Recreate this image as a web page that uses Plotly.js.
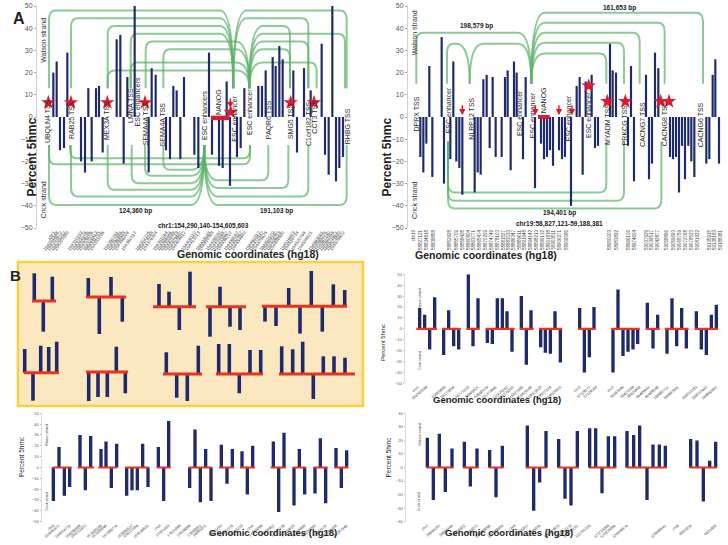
<!DOCTYPE html>
<html><head><meta charset="utf-8">
<script src="https://cdn.plot.ly/plotly-3.0.1.min.js"></script>
<style>html,body{margin:0;padding:0;background:#fff}#chart{width:728px;height:545px}</style>
</head><body><div id="chart"></div><script>
// ================= DATA =================
// Panel A (left) : chr1 region, track positions and percent 5hmc
const aL_pos = [160,170,180,192,202,243,255,265,275,288,297,308,350,361,371,382,404,446,455,467,498,510,520,530,541,552,583,595,627,636,657,668,680,690,711,722,733,775,786,797,818,827,838,848,880,891,912,932,965,975,986,997,1008,1018,1029];
const aL_val = [20,25,-15,-14,29,-20,-25,13,-20,13,14,-16,35,37,-21,18,50,-25,22,19,-15,-19,14,12,-19,18,-17,-23,29,-17,-22,-23,16,-31,-18,-14,13,14,14,21,27,23,32,26,21,-16,22,12,33,-17,-26,50,-29,-23,-18];
const aL_tickText = ["chr1","154291548","154293672","154295292","154297989","154319153","154321076","154324036","154326096","154328413","154331791","154333286","154350751","154352886","154354583","154356208","154360312","154372725","154374044","154376384","154381064","154384946","154399848","154401213","154403680","154404612","154406110","154413213","154415088","154419363","154428930","154430868","154433867","154436212","154448067","154452467","154454680","154469312","154472547","154475625","154492070","154494160","154496213","154498580","154516893","154518734","154520766","154534821","154563081","154565226","154567140","154569355","154571601","154573489","154575602"];
const aL_genes = ["UBQLN4 TSS","RAB25 TSS","MEX3A TSS","LMNA TSS","ESC enhancers","SEMA4A TSS","SEMA4A TSS","ESC enhancers","NANOG","ESC enhancer","ESC enhancer","PAQR6 TSS","SMG5 TSS","C1orf182 TSS","CCT3 TSS","RHBG TSS"];
const aL_genePos = [146,215,320,393,411,435,488,612,655,703,748,808,872,925,941,1045];
const aL_geneY = [-2,-1.5,-1.5,5,7,-2.8,-3.5,0.9,6.9,-0.6,2.4,-1.3,-2,-3,0,-4];
const aL_starPos = [145,213,322,435,872,942,692];
const aL_starY = [6.5,6.5,6.5,6.5,6.5,6.5,2.2];
const aL_arrowPos = [691];
const aL_nanog = [633,688];
const aL_arcA = [147,213,323,392,437,490,392,323, 700,700,748,748,748,748,748, 147,213,323,395,435,490,147,210, 613,613,613,613];
const aL_arcB = [700,700,700,700,748,748,748,748, 1040,925,870,1035,925,870,950, 613,613,613,613,613,613,750,750, 1040,925,865,805];
const aL_arcLevel = [48,44.5,41,37.5,34,30.5,24.5,21, 48,44.5,41,37.5,34,30.5,24.5, -39.6,-35.8,-32.8,-29.8,-26.5,-23.8,-21.3,-18.6, -39.6,-35.8,-32,-28.5];
const aL_arcHub = ['to','to','to','to','to','to','to','to','from','from','from','from','from','from','from','to','to','to','to','to','to','','','from','from','from','from'];

// Panel A (right) : chr19 region
const aR_pos = [172,181,190,199,208,236,243,262,271,280,289,298,335,344,353,361,371,380,389,398,416,426,434,443,453,461,480,488,516,534,543,552,561,570,588,597,606,624,641,650,659,668,686,696,705,741,749,759,795,804,813,849,858,867,876,886,921,930,939,948,957,966,976,985,994,1030,1039,1049,1057,1068];
const aR_val = [-18,-25,-12,23,-27,36,-30,-19,25,-20,-23,-35,-34,-25,-26,17,19,-14,18,-18,-18,18,21,-24,25,20,-19,18,-32,-12,-19,-18,-15,-22,-15,-19,-18,-40,14,18,-26,16,19,-14,-13,33,21,20,-13,23,-29,19,-28,-21,29,22,-18,-19,-18,-34,-13,-28,-13,-20,-27,-21,-19,19,26,-21];
const aR_tickPos = [151,173,191,211,261,281,299,316,333,351,369,386,403,421,436,453,469,486,503,521,538,556,573,591,611,741,761,796,816,851,866,884,911,931,951,969,986,1004,1041,1056,1074];
const aR_tickText = ["chr19","58827121","58834818","58838858","58852928","58855709","58858428","58860804","58863771","58865474","58870209","58874749","58878103","58881527","58883033","58886347","58889611","58891948","58894142","58898213","58899132","58901838","58903511","58906271","58909086","58950003","58953892","58966106","58974604","59037929","59039517","59042877","59058896","59059693","59068759","59072768","59078523","59081922","59135915","59138183","59188381"];
const aR_genes = ["DPRX TSS","ESC enhancer","NLRP12 TSS","ESC enhancer","ESC enhancer","NANOG","ESC enhancer","ESC enhancer","MYADM TSS","PRKCG TSS","CACNG7 TSS","CACNG8 TSS","CACNG6 TSS"];
const aR_genePos = [160,255,325,470,508,540,615,675,735,787,840,905,1015];
const aR_geneY = [1.3,3,-0.6,1.6,0.9,7.6,-0.6,0.9,-3.6,-3.6,-3.6,-3,-3.6];
const aR_starPos = [677,733,787,893,918];
const aR_starY = [14,7,7,7,7];
const aR_arrowPos = [298,517,588,627];
const aR_nanog = [525,560];
const aR_arcA = [160,252,320,505,505,505,505,505,255,255,255];
const aR_arcB = [505,320,505,1020,905,830,783,730,730,783,895];
const aR_arcLevel = [38,33,33,47,42.4,37.9,33.4,28.6,-34,-37.7,-41.2];
const aR_arcHub = ['to','to','both','from','from','from','from','from','','',''];

// Panel B (highlighted box) : two rows of mini bar groups
const bx1_pos = [34.3,43.3,52.3,88.3,99.3,111,122.3,159,169,179.3,190,210,220,230,240,265,276,288.7,300,311.3,322.3,333.3,344.7];
const bx1_val = [27.7,-30.7,24.3,19,-37,20,-24.7,22.7,15,-23.3,35,-30,20,-20,-23.3,-15.3,-19.7,18.3,-27.3,35.3,-25.3,22,16.3];
const bx1_grp = [0,0,0,1,1,1,1,2,2,2,2,3,3,3,3,4,4,4,4,4,4,4,4];
const bx1_base = [39,43,33.3,33.3,33.7];
const bx1_start = [32,86,153,206,262];
const bx1_end = [56,126,196,246,347];
const bx2_pos = [24.7,33,40.7,48.7,56.7,88.7,98,107.3,116.3,125.3,166.3,176.7,187.3,198.3,218.7,229.3,239.3,250,260.7,281.7,292.7,302.7,313.3,323.3,334,345];
const bx2_val = [23.7,-28,27,25.7,31,-29,-25,-25,25.3,-21.3,21.7,-23.7,-27,28.3,30,30,-19.3,24,24,27.7,24.7,32.3,-25,17.7,17.7,16.3];
const bx2_grp = [0,0,0,0,0,1,1,1,1,1,2,2,2,2,3,3,3,3,3,4,4,4,4,4,4,4];
const bx2_base = [30.3,31,29,29,29];
const bx2_start = [24,86,163,216,279];
const bx2_end = [59,128,202,263,355];

// Panel B top-right
const bTR_pos = [170,185,200,215,242,257,272,287,316,330,345,373,388,403,418,432,447,475,490,504,533,547,562,576,592,650,664,679,693,750,765,780,795,810,824,853,870,884,912,927,941,956,970,1000,1015,1030,1045,1060];
const bTR_val = [19,13,-19,29,-24,17,-16,-19,50,-16,28,-13,-14,28,28,16,-21,30,-33,17,-17,-22,-23,16,-31,19,-40,-26,20,-40,36,-25,-21,-19,-14,24,-18,13,-23,28,-16,19,-18,16,-19,-24,13,22];
const bTR_start = [160,237,310,368,470,528,645,745,848,905,995];
const bTR_end = [222,293,350,455,512,598,698,830,890,977,1065];
const bTR_tickPos = [165,190,245,272,316,345,373,398,432,450,478,504,533,562,592,650,680,700,750,780,810,830,858,884,915,945,1000,1030,1060];
const bTR_tickText = ["chr1","154393549","53955958","55173054","56773218","58665021","58690334","111273966","111275262","111276203","115027895","115028140","119623820","119627219","119828918","chr3","37129277","37129350","chr3","38397694","38421559","39425950","46499453","46499540","160997711","160997981","168533393","168533443","169092861"];

// Panel B bottom-left
const bBL_pos = [160,177,193,209,240,256,272,303,318,334,350,380,396,412,428,444,475,491,506,569,585,601,617,633,664,681,697,726,742,758,820,836,852,882,898,914,945,961,977,1008,1024,1040];
const bBL_val = [-31,19,-26,-18,30,-21,29,17,24,-19,22,-26,-21,-21,22,-18,19,-31,43,-19,35,-32,17,-31,21,-15,17,15,-25,20,24,-41,32,-35,17,-25,-24,27,-33,18,-19,16];
const bBL_start = [157,233,295,375,470,565,657,720,812,878,940,1003];
const bBL_end = [215,282,352,447,512,637,703,765,857,918,983,1045];
const bBL_tickPos = [160,177,209,240,256,303,318,350,396,412,444,480,506,540,569,601,617,664,697,726,758,785,820,852,882,914,945,977,1008,1040];
const bBL_tickText = ["chr4","155892471","156014732","156294898","156312457","157485104","157485946","157496774","158092627","158113304","158148581","chr5","13361463","13521898","13529009","13589052","14001071","14031103","14052376","14105118","chr6","17226009","17238962","17715720","17720653","17725900","87256093","87261124","87263450","87267846"];

// Panel B bottom-right
const bBR_pos = [193,211,229,247,267,304,322,342,380,399,418,493,512,530,549,587,606,624,643,680,698,717,736,755,792,812,830,852,870,889,907,983,1002,1021,1040,1058];
const bBR_val = [22,-24,25,-18,14,19,-14,14,13,-22,16,31,-32,-11,27,21,-23,-28,27,29,29,-19,23,23,27,24,31,-24,17,17,16,21,20,-25,5,19];
const bBR_start = [190,300,377,488,585,677,790,980];
const bBR_end = [272,347,422,553,648,760,912,1062];
const bBR_tickPos = [193,229,267,304,342,380,418,455,493,530,587,624,643,680,736,755,792,907,945,983,1058];
const bBR_tickText = ["chr7","30666107","30666444","77318452","77326071","121098046","121099604","chr8","73123017","73145036","109583933","109592375","112270181","112701326","123733000","123835094","128886574","128890541","chr9","6587034","6651903"];

// ================= STYLE / HELPERS =================
const FONT = 'Liberation Sans, Arial, sans-serif';
const NAVY = '#1e2a6b';
const GREEN = 'rgba(92,180,104,0.7)';
const RED = '#e0182e';
const BASERED = '#e8341f';
const W = 728, H = 545;
const px = v => v / W, py = v => 1 - v / H;

function arcPath(a, b, L, base, hub, rx, ry, hx) {
  const d = L > base ? 1 : -1;
  let p;
  if (hub === 'from' || hub === 'both') p = `M${a},${base} Q${a},${L} ${a + hx},${L}`;
  else p = `M${a},${base} L${a},${L - d * ry} Q${a},${L} ${a + rx},${L}`;
  if (hub === 'to' || hub === 'both') p += ` L${b - hx},${L} Q${b},${L} ${b},${base}`;
  else p += ` L${b - rx},${L} Q${b},${L} ${b},${L - d * ry} L${b},${base}`;
  return p;
}
function arcs(A, B, Lv, Hb, upBase, loBase, xr, yr) {
  return A.map((a, i) => ({
    type: 'path', xref: xr, yref: yr, layer: 'below',
    path: arcPath(a, B[i], Lv[i], Lv[i] > 0 ? upBase : loBase, Hb[i], 20, 4, 40),
    line: { color: GREEN, width: 2 }
  }));
}
function segs(starts, ends, bases) {
  const x = [], y = [];
  starts.forEach((s, i) => { x.push(s, ends[i], null); const b = bases ? bases[i] : 0; y.push(b, b, null); });
  return { x, y };
}
function geneAnn(pos, ys, texts, xr, yr) {
  return texts.map((t, i) => ({ x: pos[i], y: ys[i], xref: xr, yref: yr, text: t, textangle: -90,
    showarrow: false, font: { size: 7, color: '#2a2a2a', family: FONT } }));
}
function arrowAnn(pos, xr, yr, top, tip) {
  return pos.map(p => ({ x: p, y: tip, ax: p, ay: top, xref: xr, yref: yr, axref: xr, ayref: yr,
    showarrow: true, arrowhead: 2, arrowsize: 0.9, arrowwidth: 1.4, arrowcolor: RED, text: '' }));
}
function txt(x, y, t, size, opts) {
  return Object.assign({ x: x, y: y, xref: 'paper', yref: 'paper', text: t, showarrow: false,
    font: { size: size, color: '#222', family: FONT } }, opts || {});
}

// ================= TRACES =================
const traces = [];
const barA = (x, y, xa, ya) => ({ type: 'bar', x: x, y: y, width: 6.5, marker: { color: NAVY, line: { width: 0 } }, xaxis: xa, yaxis: ya, hoverinfo: 'skip' });
const barB = (x, y, xa, ya, w) => ({ type: 'bar', x: x, y: y, width: w, marker: { color: NAVY, line: { width: 0 } }, xaxis: xa, yaxis: ya, hoverinfo: 'skip' });
const stars = (x, y, xa, ya) => ({ type: 'scatter', mode: 'markers', x: x, y: y, xaxis: xa, yaxis: ya,
  marker: { symbol: 'star', size: 11, color: RED, line: { width: 0 } }, hoverinfo: 'skip' });
const redLine = (s, xa, ya, w) => ({ type: 'scatter', mode: 'lines', x: s.x, y: s.y, xaxis: xa, yaxis: ya,
  line: { color: BASERED, width: w }, hoverinfo: 'skip', connectgaps: false });

traces.push(barA(aL_pos, aL_val, 'x', 'y'));
traces.push(stars(aL_starPos, aL_starY, 'x', 'y'));
traces.push(barA(aR_pos, aR_val, 'x2', 'y2'));
traces.push(stars(aR_starPos, aR_starY, 'x2', 'y2'));

traces.push(Object.assign(barB(bx1_pos, bx1_val, 'x3', 'y3', 3.6), { base: bx1_grp.map(g => bx1_base[g]) }));
traces.push(redLine(segs(bx1_start, bx1_end, bx1_base), 'x3', 'y3', 3));
traces.push(Object.assign(barB(bx2_pos, bx2_val, 'x4', 'y4', 3.6), { base: bx2_grp.map(g => bx2_base[g]) }));
traces.push(redLine(segs(bx2_start, bx2_end, bx2_base), 'x4', 'y4', 3));

traces.push(barB(bTR_pos, bTR_val, 'x5', 'y5', 10));
traces.push(redLine(segs(bTR_start, bTR_end), 'x5', 'y5', 2.2));
traces.push(barB(bBL_pos, bBL_val, 'x6', 'y6', 10));
traces.push(redLine(segs(bBL_start, bBL_end), 'x6', 'y6', 2.2));
traces.push(barB(bBR_pos, bBR_val, 'x7', 'y7', 10));
traces.push(redLine(segs(bBR_start, bBR_end), 'x7', 'y7', 2.2));

// ================= LAYOUT =================
const hidden = { visible: false, showgrid: false, zeroline: false };
const yA = { range: [-50, 50], dtick: 10, tickfont: { size: 7, color: '#555' }, ticks: 'outside', ticklen: 2,
  tickcolor: '#aaa', showline: true, linecolor: '#d0d0d0', showgrid: false, zeroline: false };
const yB = (r, dom, anchor) => ({ domain: dom, range: r, anchor: anchor, dtick: 10, tickfont: { size: 4, color: '#555' },
  ticks: 'outside', ticklen: 1.5, tickcolor: '#bbb', showline: true, linecolor: '#ddd', showgrid: false, zeroline: false });
const xB = (dom, r, anchor, tv, tt) => ({ domain: dom, range: r, anchor: anchor, tickvals: tv, ticktext: tt, tickangle: -40,
  tickfont: { size: 3.8, color: '#444' }, ticks: '', showline: false, showgrid: false, zeroline: false });

const shapes = []
  .concat([{ type: 'rect', xref: 'paper', yref: 'paper', x0: px(18), x1: px(363), y0: py(406), y1: py(262),
    fillcolor: 'rgb(251,231,192)', line: { color: 'rgb(246,212,58)', width: 2.5 }, layer: 'below' }])
  .concat(arcs(aL_arcA, aL_arcB, aL_arcLevel, aL_arcHub, 13, -12.6, 'x', 'y'))
  .concat(arcs(aR_arcA, aR_arcB, aR_arcLevel, aR_arcHub, 15, -11, 'x2', 'y2'))
  .concat([
    { type: 'rect', xref: 'x', yref: 'y', x0: aL_nanog[0], x1: aL_nanog[1], y0: -1.4, y1: 0.6, fillcolor: RED, line: { width: 0 } },
    { type: 'rect', xref: 'x2', yref: 'y2', x0: aR_nanog[0], x1: aR_nanog[1], y0: -0.9, y1: 0.9, fillcolor: RED, line: { width: 0 } }
  ]);

const smallBold = (x, y, t, xr, yr, size) => ({ x: x, y: y, xref: xr, yref: yr, text: '<b>' + t + '</b>', showarrow: false,
  font: { size: size || 6.5, color: '#222', family: FONT } });
const strand = (x, y, t, xr, yr, size) => ({ x: x, y: y, xref: xr, yref: yr, text: t, textangle: -90, showarrow: false,
  font: { size: size, color: '#333', family: FONT } });

const annotations = []
  .concat(geneAnn(aL_genePos, aL_geneY, aL_genes, 'x', 'y'))
  .concat(geneAnn(aR_genePos, aR_geneY, aR_genes, 'x2', 'y2'))
  .concat(arrowAnn(aL_arrowPos, 'x', 'y', 9, 4))
  .concat(arrowAnn(aR_arrowPos, 'x2', 'y2', 6, 0.8))
  .concat([
    smallBold(405, -42.2, '124,360 bp', 'x', 'y'), smallBold(830, -42.2, '191,103 bp', 'x', 'y'),
    smallBold(610, -49.2, 'chr1:154,290,140-154,605,603', 'x', 'y'),
    smallBold(340, 40.8, '198,579 bp', 'x2', 'y2'), smallBold(770, 49.3, '161,653 bp', 'x2', 'y2'),
    smallBold(590, -43.3, '194,401 bp', 'x2', 'y2'), smallBold(590, -48.1, 'chr19:58,827,121-59,188,381', 'x2', 'y2'),
    strand(130, 34.5, 'Watson strand', 'x', 'y', 7), strand(130, -37.5, 'Crick strand', 'x', 'y', 7),
    strand(155, 38, 'Watson strand', 'x2', 'y2', 7), strand(155, -37.5, 'Crick strand', 'x2', 'y2', 7),
    strand(172, 27, 'Watson strand', 'x5', 'y5', 3.5), strand(172, -29, 'Crick strand', 'x5', 'y5', 3.5),
    strand(142, 30, 'Watson strand', 'x6', 'y6', 3.5), strand(142, -31, 'Crick strand', 'x6', 'y6', 3.5),
    strand(170, 24, 'Watson strand', 'x7', 'y7', 3.5), strand(170, -25, 'Crick strand', 'x7', 'y7', 3.5),
    txt(px(11), py(8), '<b>A</b>', 16),
    txt(px(8), py(275), '<b>B</b>', 15),
    txt(px(22), py(116), '<b>Percent 5hmc</b>', 12, { textangle: -90 }),
    txt(px(386), py(116), '<b>Percent 5hmc</b>', 12, { textangle: -90 }),
    txt(px(175), py(254), '<b>Genomic coordinates (hg18)</b>', 10.5),
    txt(px(559), py(255), '<b>Genomic coordinates (hg18)</b>', 10.5),
    txt(px(383), py(343), 'Percent 5hmc', 6, { textangle: -90 }),
    txt(px(16), py(479), 'Percent 5hmc', 6.5, { textangle: -90 }),
    txt(px(388), py(480), 'Percent 5hmc', 6.5, { textangle: -90 }),
    txt(px(563), py(407), '<b>Genomic coordinates (hg18)</b>', 9.5),
    txt(px(207), py(540), '<b>Genomic coordinates (hg18)</b>', 9.5),
    txt(px(575), py(540), '<b>Genomic coordinates (hg18)</b>', 9.5)
  ]);

const layout = {
  width: W, height: H, margin: { l: 0, r: 0, t: 0, b: 0 },
  paper_bgcolor: '#ffffff', plot_bgcolor: 'rgba(0,0,0,0)', showlegend: false,
  font: { family: FONT, color: '#333' }, barmode: 'overlay',
  xaxis: { domain: [px(37), px(352)], range: [111, 1056], anchor: 'y', tickvals: aL_pos.slice(0, aL_tickText.length),
    ticktext: aL_tickText, tickangle: -55, tickfont: { size: 4.5, color: '#444' }, ticks: '', showline: false, showgrid: false, zeroline: false },
  yaxis: Object.assign({ domain: [py(228), py(6)], anchor: 'x' }, yA),
  xaxis2: { domain: [px(408), px(722)], range: [135, 1077], anchor: 'y2', tickvals: aR_tickPos, ticktext: aR_tickText,
    tickangle: -90, tickfont: { size: 4.5, color: '#444' }, ticks: '', showline: false, showgrid: false, zeroline: false },
  yaxis2: Object.assign({ domain: [py(228), py(6)], anchor: 'x2' }, yA),
  xaxis3: Object.assign({ domain: [0, px(362)], range: [0, 362], anchor: 'y3' }, hidden),
  yaxis3: Object.assign({ domain: [py(340), py(262)], range: [0, 78], anchor: 'x3' }, hidden),
  xaxis4: Object.assign({ domain: [0, px(362)], range: [0, 362], anchor: 'y4' }, hidden),
  yaxis4: Object.assign({ domain: [py(403), py(340)], range: [0, 63], anchor: 'x4' }, hidden),
  xaxis5: xB([px(405), px(720)], [126, 1071], 'y5', bTR_tickPos, bTR_tickText),
  yaxis5: yB([-50, 50], [py(383.3), py(274.3)], 'x5'),
  xaxis6: xB([px(42), px(352)], [126, 1056], 'y6', bBL_tickPos, bBL_tickText),
  yaxis6: yB([-50, 50], [py(521.7), py(413.3)], 'x6'),
  xaxis7: xB([px(406), px(720)], [129, 1071], 'y7', bBR_tickPos, bBR_tickText),
  yaxis7: yB([-40, 40], [py(521.7), py(413.3)], 'x7'),
  shapes: shapes, annotations: annotations
};

Plotly.newPlot('chart', traces, layout, { staticPlot: true, displayModeBar: false });
</script></body></html>
